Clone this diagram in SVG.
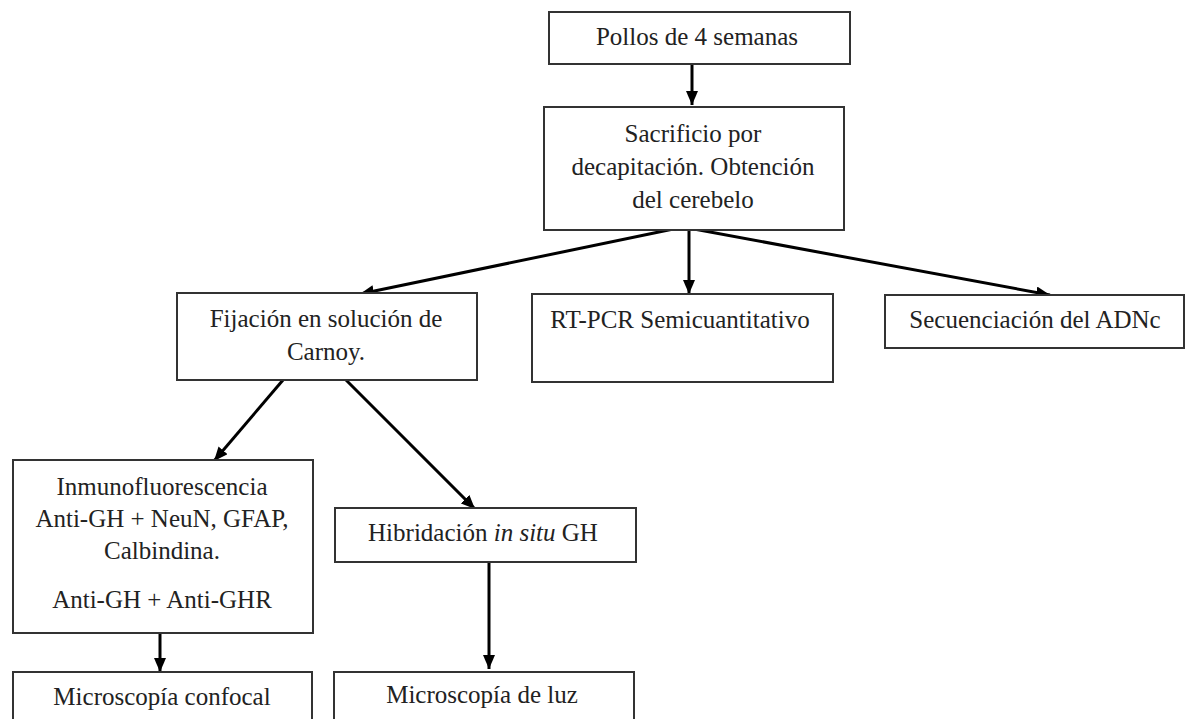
<svg xmlns="http://www.w3.org/2000/svg" width="1187" height="719" viewBox="0 0 1187 719">
<defs>
<style>
.box{fill:#fff;stroke:#333;stroke-width:2}
.t{font-family:'Liberation Serif','Times New Roman',Times,'DejaVu Serif',serif;font-size:25px;fill:#222;text-anchor:middle}
.c{stroke:#000;stroke-width:3;fill:none}
</style>
<marker id="ah" markerUnits="userSpaceOnUse" markerWidth="14" markerHeight="12" refX="14" refY="6" orient="auto">
<path d="M0,0 L14,6 L0,12 Z" fill="#000"/>
</marker>
</defs>
<rect width="1187" height="719" fill="#fff"/>
<g id="connectors">
<line class="c" x1="692" y1="64" x2="692" y2="105" marker-end="url(#ah)"/>
<line class="c" x1="683" y1="227" x2="360" y2="294" marker-end="url(#ah)"/>
<line class="c" x1="689" y1="228" x2="689" y2="294" marker-end="url(#ah)"/>
<line class="c" x1="683" y1="227" x2="1050" y2="295" marker-end="url(#ah)"/>
<line class="c" x1="283" y1="380" x2="214" y2="461" marker-end="url(#ah)"/>
<line class="c" x1="346" y1="380" x2="475" y2="509" marker-end="url(#ah)"/>
<line class="c" x1="160" y1="633" x2="160" y2="672" marker-end="url(#ah)"/>
<line class="c" x1="489" y1="562" x2="489" y2="669" marker-end="url(#ah)"/>
</g>
<g id="n1"><rect class="box" x="549" y="12" width="301" height="52"/><text class="t" x="697" y="45">Pollos de 4 semanas</text></g>
<g id="n2"><rect class="box" x="544" y="107" width="300" height="123"/><text class="t" x="693" y="142">Sacrificio por</text><text class="t" x="693" y="175">decapitación. Obtención</text><text class="t" x="693" y="208">del cerebelo</text></g>
<g id="n3"><rect class="box" x="177" y="293" width="300" height="87"/><text class="t" x="326" y="327">Fijación en solución de</text><text class="t" x="326" y="360">Carnoy.</text></g>
<g id="n4"><rect class="box" x="532" y="294" width="301" height="88"/><text class="t" x="680" y="328">RT-PCR Semicuantitativo</text></g>
<g id="n5"><rect class="box" x="885" y="295" width="299" height="53"/><text class="t" x="1035" y="328">Secuenciación del ADNc</text></g>
<g id="n6"><rect class="box" x="13" y="460" width="300" height="173"/><text class="t" x="162" y="495">Inmunofluorescencia</text><text class="t" x="162" y="527">Anti-GH + NeuN, GFAP,</text><text class="t" x="162" y="559">Calbindina.</text><text class="t" x="162" y="608">Anti-GH + Anti-GHR</text></g>
<g id="n7"><rect class="box" x="335" y="508" width="301" height="54"/><text class="t" x="483" y="541">Hibridación <tspan font-style="italic">in situ</tspan> GH</text></g>
<g id="n8"><rect class="box" x="13" y="672" width="299" height="60"/><text class="t" x="162" y="705">Microscopía confocal</text></g>
<g id="n9"><rect class="box" x="334" y="672" width="300" height="60"/><text class="t" x="482" y="703">Microscopía de luz</text></g>
</svg>
